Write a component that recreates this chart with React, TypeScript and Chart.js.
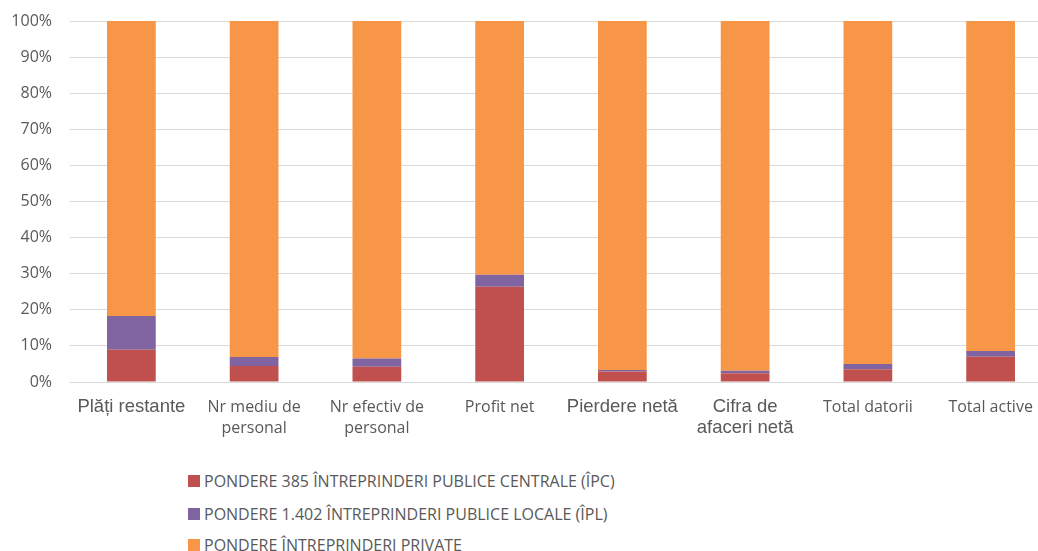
import React, { useEffect, useRef } from "react";
import { Chart, registerables } from "chart.js";

Chart.register(...registerables);

const categories: (string | string[])[] = [
  "Plăți restante",
  ["Nr mediu de", "personal"],
  ["Nr efectiv de", "personal"],
  "Profit net",
  "Pierdere netă",
  ["Cifra de", "afaceri netă"],
  "Total datorii",
  "Total active",
];

// which category labels use the larger, Arial-like font
const largeLabel = [true, false, false, false, true, true, false, false];

const seriesNames = [
  "PONDERE 385 ÎNTREPRINDERI PUBLICE CENTRALE (ÎPC)",
  "PONDERE 1.402 ÎNTREPRINDERI PUBLICE LOCALE (ÎPL)",
  "PONDERE ÎNTREPRINDERI PRIVATE",
];

const ipcValues = [8.9, 4.4, 4.2, 26.4, 2.9, 2.4, 3.5, 7.0];
const iplValues = [9.4, 2.5, 2.3, 3.3, 0.4, 0.7, 1.5, 1.6];
const privateValues = [81.7, 93.1, 93.5, 70.3, 96.7, 96.9, 95.0, 91.4];

const colors = ["#C0504D", "#8064A2", "#F79646"];

const yTicks = [0, 10, 20, 30, 40, 50, 60, 70, 80, 90, 100];

const CANVAS_W = 1052;
const CANVAS_H = 460;

export default function App() {
  const ref = useRef<HTMLCanvasElement | null>(null);

  useEffect(() => {
    if (!ref.current) return;
    const chart = new Chart(ref.current, {
      type: "bar",
      data: {
        labels: categories,
        datasets: [ipcValues, iplValues, privateValues].map((d, i) => ({
          label: seriesNames[i],
          data: d,
          backgroundColor: colors[i],
          borderWidth: 0,
          categoryPercentage: 1,
          barPercentage: 0.397,
        })),
      },
      options: {
        animation: false,
        responsive: false,
        devicePixelRatio: 1,
        layout: { padding: { top: 21, left: 0, right: 0, bottom: 0 } },
        plugins: { legend: { display: false }, tooltip: { enabled: false } },
        scales: {
          x: {
            stacked: true,
            grid: { display: false, drawTicks: false },
            border: { display: false },
            ticks: {
              padding: 14.5,
              maxRotation: 0,
              autoSkip: false,
              color: "#595959",
              font: (ctx: any) =>
                largeLabel[ctx.index]
                  ? { family: "'Liberation Sans', Arial, sans-serif", size: 18.5, lineHeight: "21px" }
                  : { family: "'Open Sans', sans-serif", size: 16, lineHeight: "21px" },
            },
            afterFit: (s: any) => {
              s.height = CANVAS_H - 382;
              s.paddingLeft = 0;
              s.paddingRight = 0;
            },
          },
          y: {
            stacked: true,
            min: 0,
            max: 100,
            afterBuildTicks: (s: any) => {
              s.ticks = yTicks.map((v) => ({ value: v }));
            },
            grid: { color: "#d9d9d9", lineWidth: 1, drawTicks: false },
            border: { display: false },
            ticks: {
              padding: 18,
              color: "#595959",
              font: { family: "'Open Sans', sans-serif", size: 16 },
              callback: (v: any) => v + "%",
            },
            afterFit: (s: any) => {
              s.width = 70;
              s.paddingTop = 0;
              s.paddingBottom = 0;
            },
          },
        },
      },
    });
    return () => chart.destroy();
  }, []);

  return (
    <div
      style={{
        position: "fixed",
        left: 0,
        top: 0,
        width: 1038,
        height: 551,
        overflow: "hidden",
        background: "#fff",
      }}
    >
      <canvas
        ref={ref}
        width={CANVAS_W}
        height={CANVAS_H}
        style={{ width: CANVAS_W, height: CANVAS_H, display: "block" }}
      />
      {seriesNames.map((name, i) => (
        <div
          key={name}
          style={{
            position: "absolute",
            left: 188,
            top: [481, 514, 545][i] - 11,
            height: 22,
            display: "flex",
            alignItems: "center",
            fontFamily: "'Open Sans', sans-serif",
            fontSize: 16,
            color: "#595959",
            whiteSpace: "nowrap",
          }}
        >
          <span
            style={{
              display: "inline-block",
              width: 12,
              height: 12,
              background: colors[i],
              marginRight: 4,
            }}
          />
          {name}
        </div>
      ))}
    </div>
  );
}
